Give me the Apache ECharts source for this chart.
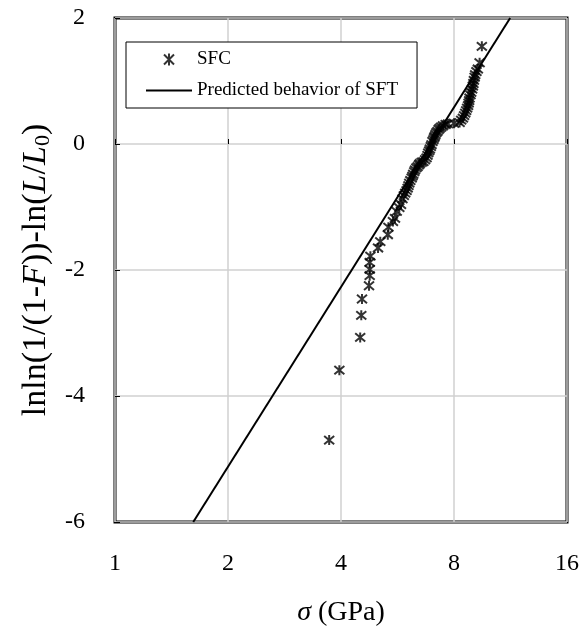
<!DOCTYPE html>
<html>
<head>
<meta charset="utf-8">
<script src="https://cdn.jsdelivr.net/npm/echarts@6/dist/echarts.min.js"></script>
<style>
  html, body { margin: 0; padding: 0; background: #fff; }
  #weibull { width: 582px; height: 641px; }
</style>
</head>
<body>
<div id="weibull"></div>
<script>
    // SFC 实测点 (sigma, lnln(1/(1-F))-ln(L/L0))
    var sfcSigma = [3.72, 3.96, 4.50, 4.53, 4.55, 4.75, 4.77, 4.77, 4.77, 4.79,
                    5.02, 5.09, 5.33, 5.35, 5.50, 5.57, 5.63, 5.72, 5.78, 5.83,
                    5.88, 5.93, 5.98, 6.02, 6.05, 6.08, 6.12, 6.17, 6.20, 6.23,
                    6.27, 6.30, 6.35, 6.40, 6.45, 6.49, 6.56, 6.63, 6.70, 6.76,
                    6.80, 6.83, 6.87, 6.90, 6.94, 6.97, 7.01, 7.05, 7.08, 7.11,
                    7.14, 7.18, 7.23, 7.28, 7.33, 7.40, 7.48, 7.60, 7.71, 8.00,
                    8.28, 8.36, 8.45, 8.51, 8.57, 8.62, 8.67, 8.72, 8.75, 8.78,
                    8.80, 8.85, 8.89, 8.94, 8.98, 9.01, 9.04, 9.08, 9.11, 9.18,
                    9.26, 9.36, 9.49];
    var sfcY = [-4.70, -3.59, -3.07, -2.72, -2.46, -2.25, -2.09, -1.99, -1.88, -1.78,
                -1.65, -1.55, -1.44, -1.32, -1.23, -1.18, -1.07, -1.01, -0.96, -0.87,
                -0.82, -0.78, -0.74, -0.70, -0.66, -0.62, -0.58, -0.54, -0.51, -0.48,
                -0.44, -0.41, -0.38, -0.36, -0.33, -0.31, -0.29, -0.28, -0.25, -0.22,
                -0.18, -0.14, -0.11, -0.08, -0.04, -0.01, 0.04, 0.07, 0.10, 0.12,
                0.15, 0.18, 0.20, 0.23, 0.25, 0.27, 0.29, 0.31, 0.32, 0.33,
                0.34, 0.38, 0.41, 0.45, 0.49, 0.53, 0.57, 0.61, 0.65, 0.69,
                0.73, 0.78, 0.82, 0.87, 0.92, 0.96, 1.01, 1.06, 1.10, 1.15,
                1.19, 1.29, 1.55];

    // SFT 预测直线的两个端点
    var sftSigma = [1.616, 11.29];
    var sftY = [-6, 2];

    // x 轴刻度
    var xTicks = [1, 2, 4, 8, 16];

    var sfcData = [];
    for (var i = 0; i < sfcSigma.length; i++) {
        sfcData.push([sfcSigma[i], sfcY[i]]);
    }
    var sftData = [];
    for (var j = 0; j < sftSigma.length; j++) {
        sftData.push([sftSigma[j], sftY[j]]);
    }

    // 星号标记 (X 加竖线)
    var starPath = 'path://M0,0L10,10M10,0L0,10M5,-1L5,11';
    var linePath = 'path://M0,0L46,0L46,2L0,2Z';
    var serif = 'Liberation Serif';

    var myChart = echarts.init(document.getElementById('weibull'));
    myChart.setOption({
        animation: false,
        textStyle: { fontFamily: serif, color: '#000' },
        grid: {
            left: 115, right: 11, top: 18, bottom: 119,
            show: true,
            borderColor: '#000',
            borderWidth: 3,
            backgroundColor: '#fff'
        },
        legend: {
            left: 126, top: 42,
            orient: 'vertical',
            padding: [8, 19, 8, 20],
            itemGap: 12,
            itemWidth: 46,
            itemHeight: 12,
            borderColor: '#000',
            borderWidth: 1,
            borderRadius: 0,
            backgroundColor: '#fff',
            textStyle: { fontFamily: serif, fontSize: 19, color: '#000' },
            data: [
                { name: 'SFC', icon: starPath, itemStyle: { color: 'transparent', borderColor: '#000', borderWidth: 2 } },
                { name: 'Predicted behavior of SFT', icon: linePath, itemStyle: { color: '#000', borderWidth: 0 } }
            ]
        },
        xAxis: {
            type: 'log',
            logBase: 2,
            min: 1,
            max: 16,
            name: '{i|σ} (GPa)',
            nameLocation: 'middle',
            nameGap: 77,
            nameTextStyle: {
                fontFamily: serif, fontSize: 28, color: '#000',
                rich: { i: { fontFamily: serif, fontSize: 28, fontStyle: 'italic' } }
            },
            axisLine: { show: false },
            axisTick: { inside: true, length: 5, lineStyle: { color: '#000', width: 1 } },
            axisLabel: {
                margin: 30, fontSize: 24, color: '#000', fontFamily: serif,
                formatter: function (v) {
                    for (var k = 0; k < xTicks.length; k++) {
                        if (Math.abs(v - xTicks[k]) < 1e-6) return String(xTicks[k]);
                    }
                    return '';
                }
            },
            splitLine: { show: true, lineStyle: { color: '#d0d0d0', width: 1.5 } }
        },
        yAxis: {
            type: 'value',
            min: -6,
            max: 2,
            interval: 2,
            name: 'lnln(1/(1-{i|F}))-ln({i|L}/{i|L}{s|0})',
            nameLocation: 'middle',
            nameGap: 56,
            nameRotate: 90,
            nameTextStyle: {
                fontFamily: serif, fontSize: 34, color: '#000',
                rich: {
                    i: { fontFamily: serif, fontSize: 34, fontStyle: 'italic' },
                    s: { fontFamily: serif, fontSize: 22, padding: [14, 0, 0, 0] }
                }
            },
            axisLine: { show: false },
            axisTick: { inside: true, length: 5, lineStyle: { color: '#000', width: 1 } },
            axisLabel: { margin: 30, fontSize: 24, color: '#000', fontFamily: serif },
            splitLine: { show: true, lineStyle: { color: '#d0d0d0', width: 1.5 } }
        },
        series: [
            {
                name: 'SFC',
                type: 'scatter',
                symbol: starPath,
                symbolSize: 10,
                itemStyle: { color: 'transparent', borderColor: '#000', borderWidth: 2 },
                data: sfcData,
                z: 3
            },
            {
                name: 'Predicted behavior of SFT',
                type: 'line',
                symbol: 'none',
                lineStyle: { color: '#000', width: 2 },
                itemStyle: { color: '#000' },
                data: sftData,
                z: 2
            }
        ]
    });
</script>
</body>
</html>
